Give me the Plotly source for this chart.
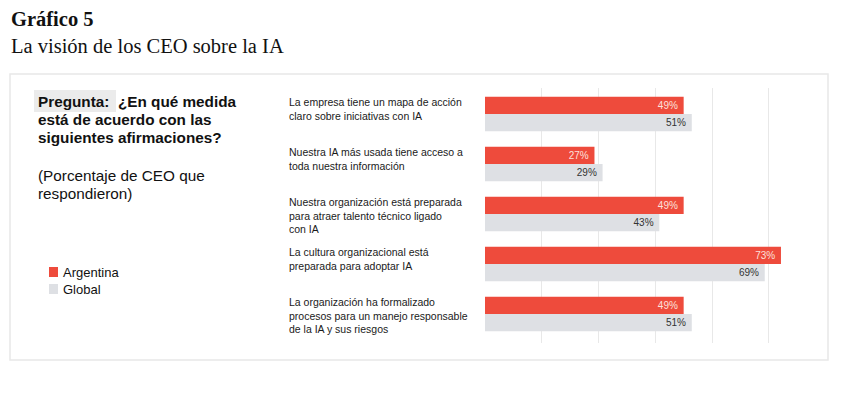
import plotly.graph_objects as go

categories = [
    "La empresa tiene un mapa de acción<br>claro sobre iniciativas con IA",
    "Nuestra IA más usada tiene acceso a<br>toda nuestra información",
    "Nuestra organización está preparada<br>para atraer talento técnico ligado<br>con IA",
    "La cultura organizacional está<br>preparada para adoptar IA",
    "La organización ha formalizado<br>procesos para un manejo responsable<br>de la IA y sus riesgos",
]
argentina = [49, 27, 49, 73, 49]
global_vals = [51, 29, 43, 69, 51]
series_names = ["Argentina", "Global"]
grid_vals = [0, 14, 28, 42, 56, 70]

RED = "#EE4B3C"
GREY = "#DEE0E4"

OFF = 8  # page body margin
W, H = 857 - OFF, 395 - OFF
# plot area in page pixels: x 485..828, y 88..343
L = 485 - OFF
T = 88 - OFF
R = W - (828 - OFF)
B = H - (343 - OFF)
PW, PH = W - L - R, H - T - B


def px(x):
    return (x - OFF - L) / PW


def py(y):
    return (H - B - (y - OFF)) / PH


fig = go.Figure()
fig.add_trace(go.Bar(
    y=categories, x=argentina, name=series_names[0], orientation="h",
    marker=dict(color=RED, line=dict(width=0)),
    texttemplate="%{x}%&nbsp;", textposition="inside",
    insidetextanchor="end",
    textfont=dict(color="#FCE0DB", size=10, family="Liberation Sans"),
    showlegend=False,
))
fig.add_trace(go.Bar(
    y=categories, x=global_vals, name=series_names[1], orientation="h",
    marker=dict(color=GREY, line=dict(width=0)),
    texttemplate="%{x}%&nbsp;", textposition="inside",
    insidetextanchor="end",
    textfont=dict(color="#333333", size=10, family="Liberation Sans"),
    showlegend=False,
))

annotations = []
# category labels
for c in categories:
    annotations.append(dict(
        xref="paper", yref="y", x=px(287), y=c, xanchor="left", yanchor="top",
        yshift=20, text=c, showarrow=False, align="left",
        font=dict(family="Liberation Sans", size=10.5, color="#1a1a1a"),
    ))

# title
annotations.append(dict(
    xref="paper", yref="paper", x=px(9), y=py(19), xanchor="left", yanchor="middle",
    text="<b>Gráfico 5</b>", showarrow=False,
    font=dict(family="Liberation Serif", size=20.5, color="#111111"),
))
annotations.append(dict(
    xref="paper", yref="paper", x=px(9), y=py(46), xanchor="left", yanchor="middle",
    text="La visión de los CEO sobre la IA", showarrow=False,
    font=dict(family="Liberation Serif", size=20.5, color="#111111"),
))
# question block, one annotation per line
question_lines = [
    ("<b>Pregunta:&nbsp; ¿En qué medida</b>", 101),
    ("<b>está de acuerdo con las</b>", 119),
    ("<b>siguientes afirmaciones?</b>", 137),
    ("(Porcentaje de CEO que", 175),
    ("respondieron)", 193),
]
for txt, yc in question_lines:
    annotations.append(dict(
        xref="paper", yref="paper", x=px(36), y=py(yc), xanchor="left", yanchor="middle",
        text=txt, showarrow=False, align="left",
        font=dict(family="Liberation Sans", size=15.3, color="#111111"),
    ))
# legend text
for name, yc in zip(series_names, [272, 289]):
    annotations.append(dict(
        xref="paper", yref="paper", x=px(61), y=py(yc), xanchor="left", yanchor="middle",
        text=name, showarrow=False,
        font=dict(family="Liberation Sans", size=13, color="#111111"),
    ))

shapes = [
    # frame
    dict(type="rect", xref="paper", yref="paper", x0=px(10), x1=px(828),
         y0=py(360), y1=py(74), line=dict(color="#E8E8E8", width=1.5),
         fillcolor="rgba(0,0,0,0)", layer="below"),
    # "Pregunta:" highlight
    dict(type="rect", xref="paper", yref="paper", x0=px(34), x1=px(116),
         y0=py(112), y1=py(90), line=dict(width=0), fillcolor="#EBEBEB", layer="below"),
    # legend swatches
    dict(type="rect", xref="paper", yref="paper", x0=px(49), x1=px(58),
         y0=py(277), y1=py(267), line=dict(width=0), fillcolor=RED),
    dict(type="rect", xref="paper", yref="paper", x0=px(49), x1=px(58),
         y0=py(294), y1=py(284), line=dict(width=0), fillcolor=GREY),
]

fig.update_layout(
    width=W, height=H,
    margin=dict(l=L, r=R, t=T, b=B),
    paper_bgcolor="white", plot_bgcolor="white",
    barmode="group", bargap=0.31, bargroupgap=0,
    annotations=annotations, shapes=shapes,
    uniformtext=dict(minsize=8, mode="show"),
    xaxis=dict(range=[0, 84.6], tickvals=grid_vals, showticklabels=False,
               showgrid=True, gridcolor="#E8E8E8", gridwidth=1, zeroline=False,
               fixedrange=True),
    yaxis=dict(range=[4.58, -0.52], showticklabels=False, showgrid=False,
               zeroline=False, fixedrange=True),
    font=dict(family="Liberation Sans"),
)

fig.write_html("out.html")
